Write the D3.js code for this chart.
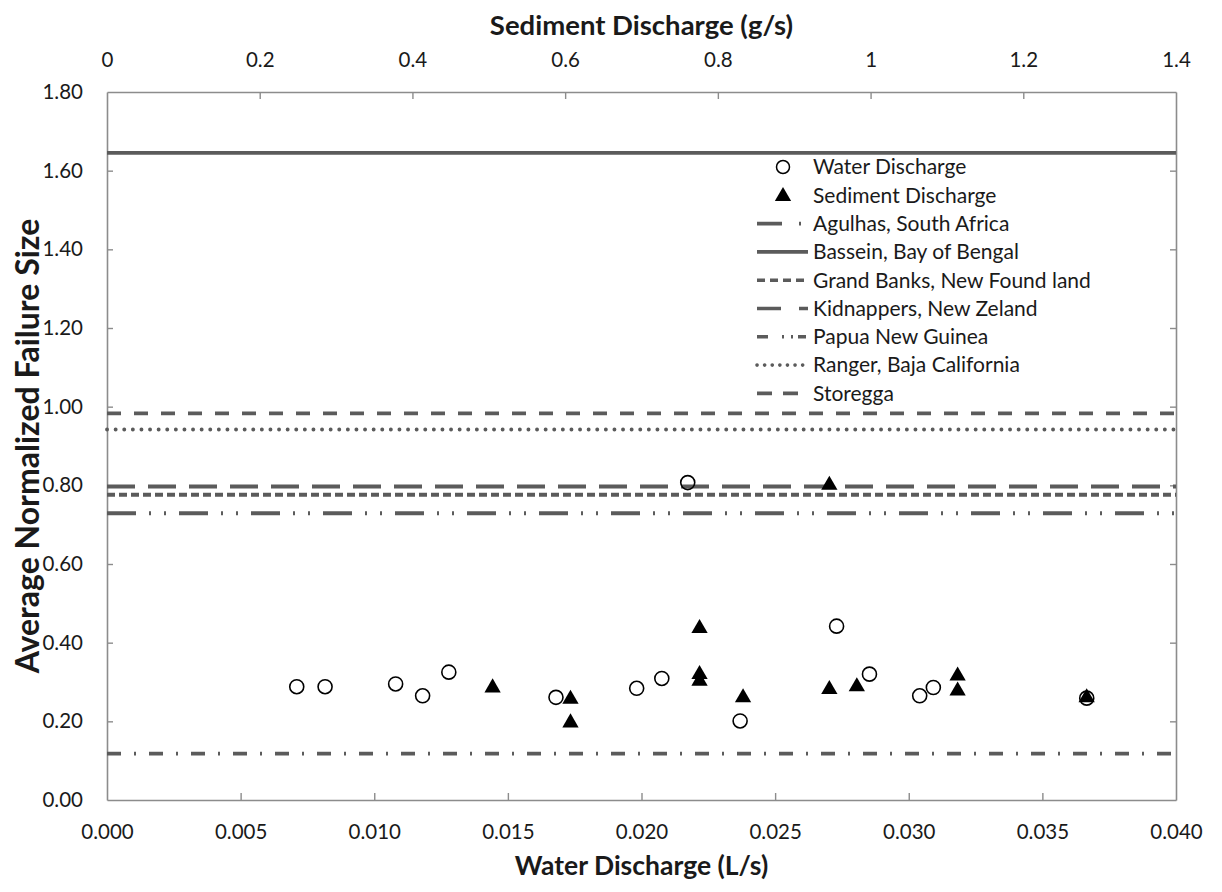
<!DOCTYPE html>
<html>
<head>
<meta charset="utf-8">
<script src="https://cdn.jsdelivr.net/npm/d3@7"></script>
<style>
  html, body { margin: 0; padding: 0; background: #fff; }
  svg { display: block; font-family: Lato, "Open Sans", sans-serif; }
</style>
</head>
<body>
<svg id="chart" width="1222" height="892"></svg>
<script>
// Water discharge runs (L/s) and their average normalized failure size
const waterQ    = [0.0071, 0.00816, 0.0108, 0.01181, 0.01279, 0.0168, 0.01982, 0.02076,
                   0.02173, 0.02369, 0.0273, 0.02853, 0.03041, 0.03092, 0.03666];
const waterSize = [0.288, 0.288, 0.295, 0.265, 0.325, 0.261, 0.284, 0.309,
                   0.807, 0.201, 0.442, 0.320, 0.265, 0.286, 0.259];

// Sediment discharge runs (g/s) and their average normalized failure size
const sedQ      = [0.505, 0.607, 0.607, 0.776, 0.776, 0.776, 0.833, 0.946,
                   0.946, 0.982, 1.114, 1.114, 1.283];
const sedSize   = [0.288, 0.259, 0.199, 0.439, 0.322, 0.305, 0.263, 0.284,
                   0.803, 0.291, 0.318, 0.280, 0.263];

// Field-case reference values of normalized failure size
const caseNames  = ["Agulhas, South Africa", "Bassein, Bay of Bengal", "Grand Banks, New Found land",
                    "Kidnappers, New Zeland", "Papua New Guinea", "Ranger, Baja California", "Storegga"];
const caseValues = [0.118, 1.645, 0.776, 0.797, 0.729, 0.942, 0.983];

// Axis ticks
const waterTicks = [0, 0.005, 0.010, 0.015, 0.020, 0.025, 0.030, 0.035, 0.040];
const sedTicks   = [0, 0.2, 0.4, 0.6, 0.8, 1, 1.2, 1.4];
const sizeTicks  = [0, 0.2, 0.4, 0.6, 0.8, 1.0, 1.2, 1.4, 1.6, 1.8];

// ---- layout ----
const L = 107, R = 1176, T = 92, B = 800;
const axisColor = "#8c8c8c";
const lineColor = "#5b5b5b";
const textColor = "#1a1a1a";

const svg = d3.select("#chart");

const x  = d3.scaleLinear().domain([0, 0.040]).range([L, R]);
const x2 = d3.scaleLinear().domain([0, 1.4]).range([L, R]);
const y  = d3.scaleLinear().domain([0, 1.8]).range([B, T]);

// line patterns for the field cases: plot dasharray, legend dasharray, cap
const caseStyles = [
  { dash: "14 13 2 13", legendDash: "25 17 2 20", cap: "butt" },
  { dash: null,          legendDash: null,          cap: "butt" },
  { dash: "8 4",         legendDash: "8 5",         cap: "butt" },
  { dash: "28 13",       legendDash: "24 18 9",     cap: "butt" },
  { dash: "29 13 2 13 2 13", legendDash: "11 14 2 7 2 5 8", cap: "butt" },
  { dash: "0.1 8.5",     legendDash: "0.1 7.5",     cap: "round" },
  { dash: "14 13",       legendDash: "15 11 15",    cap: "butt" }
];

// ---- axes (ticks point inward) ----
const fmt3 = d3.format(".3f"), fmt2 = d3.format(".2f");

const gBottom = svg.append("g").attr("transform", `translate(0,${B})`)
  .call(d3.axisBottom(x).tickValues(waterTicks).tickFormat(fmt3).tickSizeInner(-7).tickSizeOuter(0).tickPadding(24));
const gTop = svg.append("g").attr("transform", `translate(0,${T})`)
  .call(d3.axisTop(x2).tickValues(sedTicks).tickFormat(d => d3.format("")(+d.toFixed(1))).tickSizeInner(-7).tickSizeOuter(0).tickPadding(25));
const gLeft = svg.append("g").attr("transform", `translate(${L},0)`)
  .call(d3.axisLeft(y).tickValues(sizeTicks).tickFormat(fmt2).tickSizeInner(-6).tickSizeOuter(0).tickPadding(24));
const gRight = svg.append("g").attr("transform", `translate(${R},0)`)
  .call(d3.axisRight(y).tickValues(sizeTicks).tickFormat("").tickSizeInner(-6).tickSizeOuter(0));

[gBottom, gTop, gLeft, gRight].forEach(g => {
  g.select(".domain").attr("stroke", axisColor).attr("stroke-width", 1.6);
  g.selectAll(".tick line").attr("stroke", axisColor).attr("stroke-width", 1.4);
  g.selectAll(".tick text").attr("fill", textColor).attr("font-size", 20.5)
    .attr("font-family", "Lato, 'Open Sans', sans-serif");
});
// hide the end ticks that sit on the frame corners
gBottom.selectAll(".tick line").filter(d => d === 0 || d === 0.040).remove();
gTop.selectAll(".tick line").filter(d => d === 0 || d === 1.4).remove();
gLeft.selectAll(".tick line").filter(d => d === 0 || d === 1.8).remove();
gRight.selectAll(".tick line").filter(d => d === 0 || d === 1.8).remove();

// ---- field-case reference lines ----
const caseData = caseNames.map((n, i) => ({ name: n, value: caseValues[i], style: caseStyles[i] }));
svg.append("g").selectAll("line").data(caseData).join("line")
  .attr("x1", x(0)).attr("x2", x(0.040))
  .attr("y1", d => y(d.value)).attr("y2", d => y(d.value))
  .attr("stroke", lineColor).attr("stroke-width", 3.8)
  .attr("stroke-linecap", d => d.style.cap)
  .attr("stroke-dasharray", d => d.style.dash);

// ---- data markers ----
const waterData = waterQ.map((q, i) => ({ q, s: waterSize[i] }));
const sedData   = sedQ.map((q, i) => ({ q, s: sedSize[i] }));

svg.append("g").selectAll("circle").data(waterData).join("circle")
  .attr("cx", d => x(d.q)).attr("cy", d => y(d.s)).attr("r", 7)
  .attr("fill", "none").attr("stroke", "#000").attr("stroke-width", 1.6);

const tri = d3.symbol().type(d3.symbolTriangle).size(115);
svg.append("g").selectAll("path").data(sedData).join("path")
  .attr("d", tri)
  .attr("transform", d => `translate(${x2(d.q)},${y(d.s) + 1})`)
  .attr("fill", "#000");

// ---- legend ----
const lgX0 = 757, lgX1 = 808, lgText = 813, lgY0 = 167, lgStep = 28.3;
const legend = svg.append("g");
const lgFont = 21;

legend.append("circle").attr("cx", 783).attr("cy", lgY0).attr("r", 6.5)
  .attr("fill", "none").attr("stroke", "#000").attr("stroke-width", 1.5);
legend.append("path").attr("d", tri).attr("transform", `translate(783,${lgY0 + lgStep + 1})`).attr("fill", "#000");

const lgLabels = ["Water Discharge", "Sediment Discharge"].concat(caseNames);
legend.selectAll("text").data(lgLabels).join("text")
  .attr("x", lgText).attr("y", (d, i) => lgY0 + i * lgStep)
  .attr("dy", "0.35em").attr("font-size", lgFont).attr("fill", textColor).text(d => d);

legend.selectAll("line").data(caseData).join("line")
  .attr("x1", lgX0).attr("x2", lgX1)
  .attr("y1", (d, i) => lgY0 + (i + 2) * lgStep).attr("y2", (d, i) => lgY0 + (i + 2) * lgStep)
  .attr("stroke", lineColor).attr("stroke-width", 3.6)
  .attr("stroke-linecap", d => d.style.cap)
  .attr("stroke-dasharray", d => d.style.legendDash);

// ---- axis titles ----
svg.append("text").attr("x", (L + R) / 2).attr("y", 25).attr("dy", "0.35em")
  .attr("text-anchor", "middle").attr("font-size", 27.5).attr("font-weight", "bold")
  .attr("fill", textColor).text("Sediment Discharge (g/s)");
svg.append("text").attr("x", (L + R) / 2).attr("y", 866).attr("dy", "0.35em")
  .attr("text-anchor", "middle").attr("font-size", 26.5).attr("font-weight", "bold")
  .attr("fill", textColor).text("Water Discharge (L/s)");
svg.append("text").attr("transform", `translate(28,${(T + B) / 2}) rotate(-90)`).attr("dy", "0.35em")
  .attr("text-anchor", "middle").attr("font-size", 32).attr("font-weight", "bold")
  .attr("fill", textColor).text("Average Normalized Failure Size");
</script>
</body>
</html>
